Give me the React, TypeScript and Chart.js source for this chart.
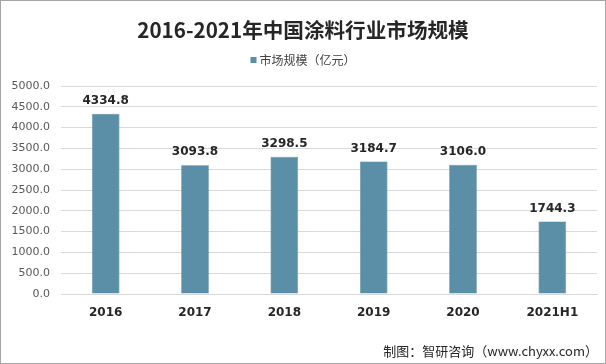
import React, { useEffect, useRef } from "react";
import { Chart, registerables } from "chart.js";

Chart.register(...registerables);

const categories = ["2016", "2017", "2018", "2019", "2020", "2021H1"];
const marketSize = [4334.8, 3093.8, 3298.5, 3184.7, 3106.0, 1744.3];
const seriesName = "市场规模（亿元）";
const titleText = "2016-2021年中国涂料行业市场规模";
const sourceText = "制图：智研咨询（www.chyxx.com）";

const BAR_COLOR = "#5b8fa7";
const CJK = '"Noto Sans CJK SC", "Noto Sans", sans-serif';
const LATIN = '"DejaVu Sans", Verdana, sans-serif';

const decorPlugin = {
  id: "decor",
  afterDraw(chart: any) {
    const ctx = chart.ctx;
    ctx.save();
    // border
    ctx.strokeStyle = "#a6a6a6";
    ctx.lineWidth = 1;
    ctx.strokeRect(0.5, 0.5, chart.width - 1, chart.height - 1);
    // title
    ctx.fillStyle = "#262626";
    ctx.font = `bold 20.6px ${CJK}`;
    ctx.textAlign = "center";
    ctx.textBaseline = "middle";
    ctx.fillText(titleText, 303, 30);
    // legend
    ctx.font = `12px ${CJK}`;
    ctx.textAlign = "left";
    const tw = ctx.measureText(seriesName).width;
    const startX = 303 - (tw + 9) / 2;
    ctx.fillStyle = BAR_COLOR;
    ctx.fillRect(startX, 57, 6, 6);
    ctx.fillStyle = "#404040";
    ctx.fillText(seriesName, startX + 9, 60);
    // source
    ctx.font = `13px ${CJK}`;
    ctx.textAlign = "right";
    ctx.fillStyle = "#262626";
    ctx.fillText(sourceText, 598, 351);
    // data labels
    const meta = chart.getDatasetMeta(0);
    ctx.font = `bold 12px ${LATIN}`;
    ctx.textAlign = "center";
    ctx.fillStyle = "#262626";
    meta.data.forEach((bar: any, i: number) => {
      ctx.fillText(marketSize[i].toFixed(1), bar.x, bar.y - 13);
    });
    ctx.restore();
  },
};

export default function App() {
  const ref = useRef<HTMLCanvasElement>(null);
  useEffect(() => {
    document.body.style.margin = "0";
    const chart = new Chart(ref.current!, {
      type: "bar",
      data: {
        labels: categories,
        datasets: [
          {
            label: seriesName,
            data: marketSize,
            backgroundColor: BAR_COLOR,
            borderColor: "#527f94",
            borderWidth: 0.6,
            categoryPercentage: 1,
            barPercentage: 0.31,
          },
        ],
      },
      options: {
        animation: false,
        responsive: false,
        maintainAspectRatio: false,
        layout: { padding: { top: 86, right: 9, bottom: 0, left: 0 } },
        plugins: {
          legend: { display: false },
          title: { display: false },
          tooltip: { enabled: false },
        },
        scales: {
          x: {
            grid: { display: false, drawTicks: false },
            border: { display: true, color: "#d9d9d9" },
            ticks: {
              color: "#262626",
              font: { family: LATIN, size: 12, weight: "bold" },
              padding: 12,
              maxRotation: 0,
            },
            afterFit(scale: any) {
              scale.height = 70;
            },
          },
          y: {
            min: 0,
            max: 5000,
            ticks: {
              stepSize: 500,
              color: "#595959",
              font: { family: LATIN, size: 11 },
              padding: 11,
              callback: (v: any) => Number(v).toFixed(1),
            },
            grid: { color: "#d9d9d9", drawTicks: false },
            border: { display: false },
            afterFit(scale: any) {
              scale.width = 61;
            },
          },
        },
      },
      plugins: [decorPlugin],
    });
    return () => chart.destroy();
  }, []);
  return (
    <div style={{ position: "fixed", left: 0, top: 0, width: 606, height: 364, background: "#fff" }}>
      <canvas ref={ref} width={606} height={364} style={{ width: 606, height: 364 }} />
    </div>
  );
}
